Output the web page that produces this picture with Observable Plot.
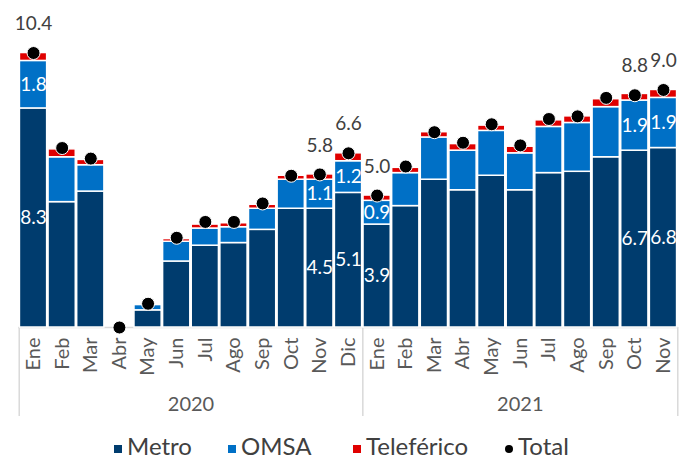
<!DOCTYPE html>
<html>
<head>
<meta charset="utf-8">
<script src="https://cdn.jsdelivr.net/npm/d3@7"></script>
<script src="https://cdn.jsdelivr.net/npm/@observablehq/plot@0.6"></script>
<style>
  html, body { margin: 0; padding: 0; background: #fff; }
  body { width: 689px; height: 462px; overflow: hidden; position: relative; font-family: Lato, "Open Sans", sans-serif; }
  #legend { position: absolute; left: 0; top: 434px; width: 689px; height: 24px; font-size: 24px; line-height: 24px; color: #404040; }
  .item { position: absolute; top: 0; display: flex; align-items: center; height: 24px; white-space: nowrap; }
  .sw { width: 8px; height: 8px; margin-right: 5px; margin-top: 6px; }
</style>
</head>
<body>
<div id="chart"></div>
<div id="legend"></div>
<script>
// ---- data (millions of passengers) ----
const months2020 = ["Ene","Feb","Mar","Abr","May","Jun","Jul","Ago","Sep","Oct","Nov","Dic"];
const months2021 = ["Ene","Feb","Mar","Abr","May","Jun","Jul","Ago","Sep","Oct","Nov"];
const years = ["2020", "2021"];
const metro = [8.3, 4.75, 5.15, 0, 0.65, 2.5, 3.1, 3.2, 3.7, 4.5, 4.5, 5.1,
               3.9, 4.6, 5.6, 5.2, 5.75, 5.2, 5.85, 5.9, 6.45, 6.7, 6.8];
const omsa = [1.8, 1.7, 1.0, 0, 0.2, 0.75, 0.65, 0.6, 0.8, 1.1, 1.1, 1.2,
              0.9, 1.25, 1.6, 1.5, 1.7, 1.4, 1.75, 1.85, 1.9, 1.9, 1.9];
const teleferico = [0.3, 0.3, 0.2, 0, 0, 0.1, 0.15, 0.15, 0.15, 0.15, 0.2, 0.3,
                    0.2, 0.2, 0.2, 0.25, 0.2, 0.25, 0.25, 0.25, 0.3, 0.25, 0.3];
const total = [10.4, 6.8, 6.4, 0, 0.9, 3.4, 4.0, 4.0, 4.7, 5.75, 5.8, 6.6,
               5.0, 6.1, 7.4, 7.0, 7.7, 6.9, 7.9, 8.0, 8.7, 8.8, 9.0];
const labelled = ["Ene 2020", "Nov 2020", "Dic 2020", "Ene 2021", "Oct 2021", "Nov 2021"];
const seriesNames = ["Metro", "OMSA", "Teleférico"];
const seriesColors = ["#003c6e", "#0070c6", "#e00000"];

// ---- build tables ----
const monthGroups = [months2020, months2021];
const rows = [];
monthGroups.forEach((ms, g) => ms.forEach(m => rows.push({month: m, year: years[g], key: m + " " + years[g]})));
rows.forEach((r, i) => { r.metro = metro[i]; r.omsa = omsa[i]; r.tele = teleferico[i]; r.total = total[i]; });
const keys = rows.map(r => r.key);

const stacked = [];
rows.forEach(r => {
  let acc = 0;
  [["Metro", r.metro], ["OMSA", r.omsa], ["Teleférico", r.tele]].forEach(([s, v]) => {
    stacked.push({key: r.key, series: s, value: v, y1: acc, y2: acc + v});
    acc += v;
  });
});

// ---- layout ----
const W = 689, H = 425, mL = 18, mR = 11, mT = 0, mB = 98;
const pad = 0.05;
const n = keys.length;
const step = (W - mL - mR) / (n - pad + 2 * pad);

const groupFirst = years.map(y => rows.find(r => r.year === y).key);
const lastKey = keys[keys.length - 1];
const yearLabels = years.map(y => {
  const idx = rows.map((r, i) => r.year === y ? i : -1).filter(i => i >= 0);
  const mid = (idx[0] + idx[idx.length - 1]) / 2;
  return {year: y, key: keys[Math.floor(mid)], dx: (mid - Math.floor(mid)) * step};
});

const chart = Plot.plot({
  width: W, height: H,
  marginLeft: mL, marginRight: mR, marginTop: mT, marginBottom: mB,
  x: {domain: keys, paddingInner: pad, paddingOuter: pad, align: 0.5, round: false},
  y: {domain: [0, 12.39], axis: null},
  color: {domain: seriesNames, range: seriesColors},
  style: {fontFamily: "Lato, 'Open Sans', sans-serif", fontSize: "20px", color: "#595959", background: "white", overflow: "visible"},
  marks: [
    Plot.ruleY([0], {stroke: "#d9d9d9", strokeWidth: 1.5}),
    Plot.ruleX(groupFirst, {x: d => d, y1: 0, y2: 0, dx: -step / 2, insetBottom: -89, stroke: "#d9d9d9", strokeWidth: 1.5}),
    Plot.ruleX([lastKey], {x: d => d, y1: 0, y2: 0, dx: step / 2, insetBottom: -89, stroke: "#d9d9d9", strokeWidth: 1.5}),
    Plot.axisX({tickRotate: -90, tickSize: 0, tickPadding: 10, tickFormat: d => d.split(" ")[0], fill: "#595959", label: null}),
    ...yearLabels.map(yl => Plot.text([yl], {x: d => d.key, y: 0, dx: yl.dx, dy: 77.5, text: d => d.year, fill: "#595959", fontSize: 20})),
    Plot.barY(stacked.filter(d => d.value > 0), {x: "key", y1: "y1", y2: "y2", fill: "series", stroke: "white", strokeWidth: 1.5}),
    Plot.dot(rows, {x: "key", y: "total", r: 6.5, fill: "black", stroke: "white", strokeWidth: 1}),
    Plot.text(stacked.filter(d => d.series !== "Teleférico" && labelled.includes(d.key)),
      {x: "key", y: d => (d.y1 + d.y2) / 2, text: d => d.value.toFixed(1), fill: "white", fontSize: 19}),
    Plot.text(rows.filter(r => labelled.includes(r.key)),
      {x: "key", y: "total", dy: -29, text: d => d.total.toFixed(1), fill: "#404040", fontSize: 19})
  ]
});
document.getElementById("chart").appendChild(chart);

// ---- legend ----
const legendItems = [
  {name: "Metro", color: seriesColors[0], shape: "square", left: 114},
  {name: "OMSA", color: seriesColors[1], shape: "square", left: 228},
  {name: "Teleférico", color: seriesColors[2], shape: "square", left: 353},
  {name: "Total", color: "#000", shape: "circle", left: 505}
];
const legend = document.getElementById("legend");
legendItems.forEach(it => {
  const div = document.createElement("div");
  div.className = "item";
  div.style.left = it.left + "px";
  const sw = document.createElement("span");
  sw.className = "sw";
  sw.style.background = it.color;
  if (it.shape === "circle") sw.style.borderRadius = "50%";
  div.appendChild(sw);
  const t = document.createElement("span");
  t.textContent = it.name;
  div.appendChild(t);
  legend.appendChild(div);
});
</script>
</body>
</html>
